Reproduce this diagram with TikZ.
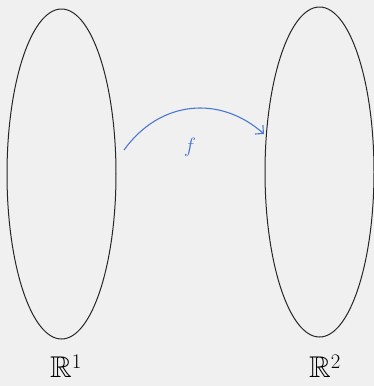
\documentclass[tikz,border=0pt]{standalone}
\usepackage{amssymb}
\usetikzlibrary{shapes.geometric,arrows.meta}
\definecolor{bg}{HTML}{F0F0F0}
\definecolor{arrowblue}{HTML}{4A78D0}
\begin{document}
\begin{tikzpicture}[x=1pt,y=-1pt,
  setoval/.style={draw=black!85,line width=1pt,ellipse,minimum width=109pt,minimum height=330pt,inner sep=0pt},
  setlabel/.style={font=\fontsize{30}{32}\selectfont,inner sep=0pt},
  maparrow/.style={draw=arrowblue,line width=1.1pt,-{Straight Barb[length=6pt,width=12pt]}}]
\fill[bg] (0,0) rectangle (374,386);
\useasboundingbox (0,0) rectangle (374,386);
\node[setoval] (L) at (61.5,174) {};
\node[setoval] (R) at (319.5,172) {};
\coordinate (s) at (124,150);
\coordinate (t) at (264,134);
\draw[maparrow] (s) .. controls (160,100) and (220,95) .. (t);
\node[text=arrowblue,font=\fontsize{20}{22}\selectfont] (f) at (190,147) {$f$};
\node[setlabel] (l1) at (66,366) {$\mathbb{R}^1$};
\node[setlabel] (l2) at (325,366) {$\mathbb{R}^2$};
\end{tikzpicture}
\end{document}
